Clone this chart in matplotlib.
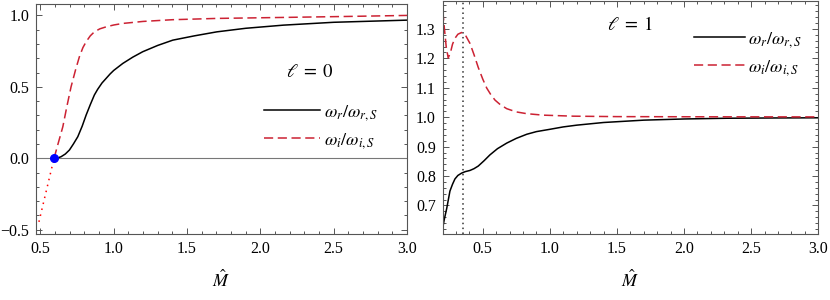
import matplotlib
matplotlib.use("Agg")
import matplotlib.pyplot as plt
from matplotlib.ticker import MultipleLocator

plt.rcParams['font.family'] = ['Liberation Serif', 'DejaVu Serif']
plt.rcParams['mathtext.fontset'] = 'stix'
plt.rcParams['font.size'] = 11.5

# l = 0 panel
m0_r = [0.593, 0.62, 0.641, 0.67, 0.698, 0.725, 0.755, 0.785, 0.812, 0.84, 0.868, 0.89,
        0.92, 0.948, 0.975, 1.0, 1.062, 1.13, 1.198, 1.3, 1.403, 1.55, 1.703, 1.9, 2.157,
        2.5, 3.0]
wr0 = [0.0, 0.003, 0.011, 0.03, 0.058, 0.10, 0.151, 0.225, 0.303, 0.375, 0.443, 0.482,
       0.527, 0.559, 0.590, 0.615, 0.664, 0.708, 0.746, 0.790, 0.827, 0.857, 0.885, 0.910,
       0.932, 0.952, 0.967]
m0_i = [0.593, 0.62, 0.653, 0.68, 0.709, 0.74, 0.766, 0.79, 0.812, 0.84, 0.868, 0.905,
        0.948, 1.0, 1.062, 1.2, 1.4, 1.7, 2.157, 2.6, 3.0]
wi0 = [0.0, 0.10, 0.221, 0.36, 0.50, 0.62, 0.711, 0.775, 0.816, 0.857, 0.885, 0.906,
       0.920, 0.933, 0.944, 0.958, 0.970, 0.979, 0.986, 0.993, 1.0]
m0_unst = [0.49, 0.593]
wi0_unst = [-0.445, 0.0]
m_cross = 0.593

# l = 1 panel
m1_r = [0.203, 0.215, 0.232, 0.245, 0.256, 0.275, 0.293, 0.315, 0.343, 0.37, 0.405, 0.435,
        0.467, 0.51, 0.554, 0.61, 0.679, 0.75, 0.828, 0.9, 1.002, 1.1, 1.201, 1.4, 1.7,
        2.0, 2.32, 2.7, 3.0]
wr1 = [0.626, 0.655, 0.690, 0.722, 0.749, 0.772, 0.790, 0.802, 0.810, 0.815, 0.819, 0.825,
       0.834, 0.852, 0.872, 0.893, 0.912, 0.928, 0.942, 0.951, 0.959, 0.967, 0.973, 0.982,
       0.990, 0.994, 0.9965, 0.9975, 0.998]
m1_i = [0.203, 0.215, 0.228, 0.243, 0.26, 0.275, 0.293, 0.315, 0.343, 0.37, 0.405, 0.435,
        0.467, 0.50, 0.530, 0.56, 0.592, 0.63, 0.679, 0.75, 0.828, 0.95, 1.176, 1.5, 2.0, 3.0]
wi1 = [1.36, 1.30, 1.24, 1.201, 1.22, 1.248, 1.268, 1.282, 1.288, 1.280, 1.251, 1.213,
       1.169, 1.130, 1.099, 1.077, 1.058, 1.043, 1.029, 1.018, 1.012, 1.007, 1.0035, 1.002,
       1.0015, 1.001]
m_mark = 0.35

red = '#cc2233'
frame = '#555555'

fig = plt.figure(figsize=(8.3, 3.0), dpi=100)
ax1 = fig.add_axes([36/830, 1-234/300, 371/830, 230/300])
ax2 = fig.add_axes([442.7/830, 1-234/300, 375.6/830, 233/300])

ax1.axhline(0, color='#777777', lw=0.8)
ax1.plot(m0_r, wr0, color='black', lw=1.1, label=r'$\omega_r/\omega_{r,S}$')
ax1.plot(m0_i, wi0, color=red, lw=1.1, dashes=(6, 3), label=r'$\omega_i/\omega_{i,S}$')
ax1.plot(m0_unst, wi0_unst, color='red', lw=1.1, dashes=(1, 3))
ax1.plot([m_cross], [0], 'o', color='blue', ms=5.5, zorder=5)
ax1.set_xlim(0.47, 3.0)
ax1.set_ylim(-0.53, 1.08)
ax1.xaxis.set_major_locator(MultipleLocator(0.5))
ax1.xaxis.set_minor_locator(MultipleLocator(0.1))
ax1.yaxis.set_major_locator(MultipleLocator(0.5))
ax1.yaxis.set_minor_locator(MultipleLocator(0.1))
ax1.text(0.739, 0.704, r'$\ell\;=\;0$', transform=ax1.transAxes, ha='center', va='center', fontsize=13.5)
ax1.legend(loc='upper left', bbox_to_anchor=(0.59, 0.61), frameon=False, borderpad=0,
           handlelength=3.1, handletextpad=0.2, labelspacing=0.45, fontsize=13)

ax2.axvline(m_mark, color='#333333', lw=1.1, dashes=(1, 2.2))
ax2.plot(m1_r, wr1, color='black', lw=1.1, label=r'$\omega_r/\omega_{r,S}$')
ax2.plot(m1_i, wi1, color=red, lw=1.1, dashes=(6, 3), label=r'$\omega_i/\omega_{i,S}$')
ax2.set_xlim(0.202, 3.0)
ax2.set_ylim(0.603, 1.395)
ax2.xaxis.set_major_locator(MultipleLocator(0.5))
ax2.xaxis.set_minor_locator(MultipleLocator(0.1))
ax2.yaxis.set_major_locator(MultipleLocator(0.1))
ax2.yaxis.set_minor_locator(MultipleLocator(0.02))
ax2.text(0.499, 0.897, r'$\ell\;=\;1$', transform=ax2.transAxes, ha='center', va='center', fontsize=13.5)
ax2.legend(loc='upper left', bbox_to_anchor=(0.645, 0.915), frameon=False, borderpad=0,
           handlelength=2.8, handletextpad=0.2, labelspacing=0.45, fontsize=13)

for ax in (ax1, ax2):
    ax.set_xlabel(r'$\hat{M}$', fontsize=13, labelpad=9)
    ax.tick_params(which='both', direction='in', top=True, right=True, color=frame, width=0.7)
    ax.tick_params(which='major', length=4, pad=5)
    ax.tick_params(which='minor', length=2)
    for s in ax.spines.values():
        s.set_color(frame)
        s.set_linewidth(0.8)

fig.savefig('out.png', dpi=100)
